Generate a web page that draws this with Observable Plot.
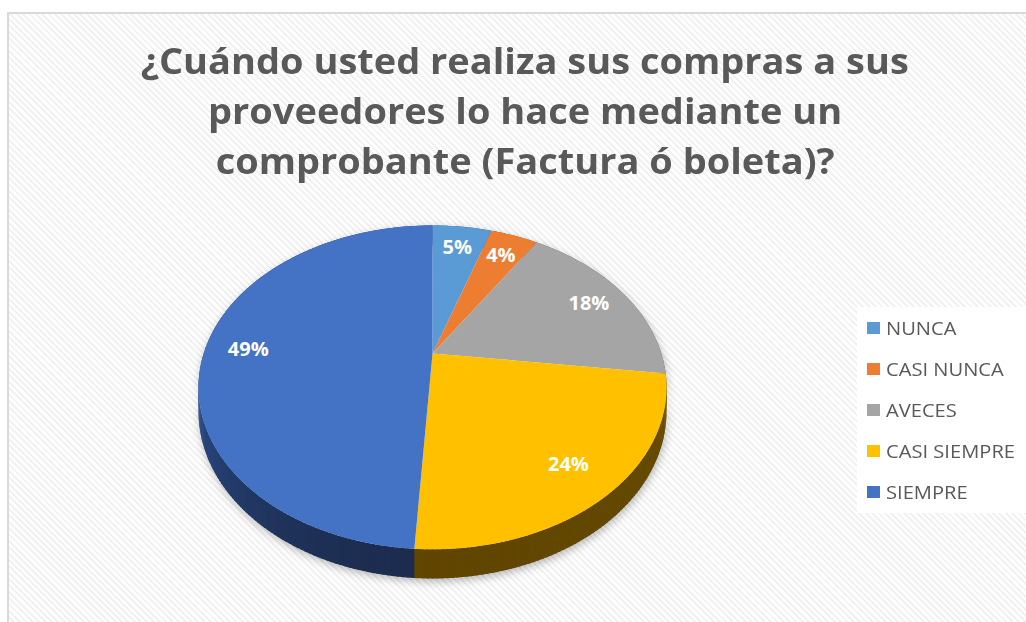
<!DOCTYPE html>
<html><head><meta charset="utf-8">
<script src="https://cdn.jsdelivr.net/npm/d3@7"></script>
<script src="https://cdn.jsdelivr.net/npm/@observablehq/plot@0.6"></script>
<style>
html,body{margin:0;padding:0;background:#fff;}
#wrap{position:relative;width:1026px;height:622px;overflow:hidden;background:#fff;}
#frame{position:absolute;left:7px;top:12px;width:1040px;height:640px;border-left:2px solid #d9d9d9;border-top:2px solid #d9d9d9;
 background:repeating-linear-gradient(45deg,#ffffff 0px,#ffffff 2.5px,#f1f1f1 2.5px,#f1f1f1 4.5px);}
#chart{position:absolute;left:0;top:0;}
#title{position:absolute;left:0;top:36px;width:1050px;text-align:center;font-family:"Open Sans",sans-serif;font-weight:700;color:#595959;font-size:35px;line-height:50px;}
#title .ln{display:block;white-space:nowrap;}
#title .ln span{display:inline-block;transform-origin:50% 50%;}
#legend{position:absolute;left:857px;top:307px;width:175px;height:206px;background:#fff;font-family:"Open Sans",sans-serif;font-size:18px;color:#595959;}
#legend .row{position:absolute;left:0;height:24px;line-height:24px;white-space:nowrap;}
#legend .sw{position:absolute;left:10px;top:6px;width:13px;height:12px;}
#legend .lt{position:absolute;left:29px;top:0;display:inline-block;transform-origin:0 50%;}
</style></head>
<body>
<div id="wrap">
  <div id="frame"></div>
  <div id="chart"></div>
  <div id="title"></div>
  <div id="legend"></div>
</div>
<script>
// ---- data ----
const titleLines = ["¿Cuándo usted realiza sus compras a sus", "proveedores lo hace mediante un", "comprobante (Factura ó boleta)?"];
const categories = ["NUNCA", "CASI NUNCA", "AVECES", "CASI SIEMPRE", "SIEMPRE"];
const values = [5, 4, 18, 24, 49];
const labels = ["5%", "4%", "18%", "24%", "49%"];
// ---- style ----
const topColors = ["#5B9BD5", "#ED7D31", "#A5A5A5", "#FFC000", "#4472C4"];
const sideLight = ["#3b6e9c", "#a9561f", "#747474", "#6a4e00", "#30569a"];
const sideDark  = ["#2b5078", "#7d3f16", "#555555", "#604600", "#1c2c4f"];

// projection parameters (perspective pie)
const CX = 432, CY = 353, FX = 228.8, FY = 154.8, K = 0.2095, D = 23;
function proj(a, r, drop) {
  const u = r * Math.sin(a), v = r * Math.cos(a), w = 1 + K * v;
  return [CX + FX * u / w, CY - FY * v / w + (drop ? D / w : 0)];
}

const total = d3.sum(values);
let acc = 0;
const slices = categories.map((c, i) => {
  const a0 = acc / total * 2 * Math.PI; acc += values[i];
  const a1 = acc / total * 2 * Math.PI;
  return {c, i, a0, a1};
});

const step = Math.PI / 180, eps = 0.012;
const topPts = [], sidePts = [], labelPts = [];
slices.forEach(s => {
  const n = Math.max(2, Math.ceil((s.a1 - s.a0) / step));
  const [x0, y0] = proj(0, 0, false);
  topPts.push({id: s.c, x: x0, y: y0, c: topColors[s.i]});
  for (let j = 0; j <= n; j++) {
    const a = s.a0 + (s.a1 - s.a0) * j / n;
    const [x, y] = proj(a, 1, false);
    topPts.push({id: s.c, x, y, c: topColors[s.i]});
  }
  for (let j = 0; j < n; j++) {
    const a = s.a0 + (s.a1 - s.a0) * j / n;
    const b = Math.min(s.a1 + (s.i === slices.length - 1 ? 0 : eps), s.a0 + (s.a1 - s.a0) * (j + 1) / n + eps);
    const m = (a + b) / 2, t = Math.max(0, Math.min(1, -Math.cos(m)));
    const col = d3.interpolateRgb(sideLight[s.i], sideDark[s.i])(t);
    const id = s.c + "-" + j;
    [proj(a, 1, false), proj(b, 1, false), proj(b, 1, true), proj(a, 1, true)]
      .forEach(([x, y]) => sidePts.push({id, x, y, c: col}));
  }
  const mid = (s.a0 + s.a1) / 2;
  const [lx, ly] = proj(mid, 0.81, false);
  labelPts.push({x: lx, y: ly, text: labels[s.i]});
});

const plot = Plot.plot({
  width: 1026, height: 622,
  margin: 0,
  style: {background: "transparent"},
  x: {domain: [0, 1026], range: [0, 1026], axis: null},
  y: {domain: [0, 622], range: [0, 622], axis: null},
  color: {type: "identity"},
  marks: [
    Plot.line(sidePts, {x: "x", y: "y", z: "id", fill: "c"}),
    Plot.line(topPts, {x: "x", y: "y", z: "id", fill: "c"}),
    Plot.text(labelPts, {x: "x", y: "y", text: "text", fill: "white", fontSize: 20, fontWeight: "bold", fontFamily: "Open Sans"})
  ]
});
document.getElementById("chart").appendChild(plot);
const lineGroups = plot.querySelectorAll('g[aria-label="line"]');
if (lineGroups[0]) lineGroups[0].style.filter = "drop-shadow(1px 3px 4px rgba(0,0,0,0.28))";

// title
const title = document.getElementById("title");
titleLines.forEach(t => {
  const d = document.createElement("div"); d.className = "ln";
  const sp = document.createElement("span"); sp.textContent = t;
  d.appendChild(sp); title.appendChild(d);
});
const spans = title.querySelectorAll("span");
const sx = 768 / spans[0].getBoundingClientRect().width;
spans.forEach(sp => sp.style.transform = `scaleX(${sx})`);

// legend
const legend = document.getElementById("legend");
categories.forEach((c, i) => {
  const r = document.createElement("div"); r.className = "row";
  r.style.top = (9 + 41 * i) + "px";
  const sw = document.createElement("span"); sw.className = "sw"; sw.style.background = topColors[i];
  const lt = document.createElement("span"); lt.className = "lt"; lt.textContent = c;
  r.appendChild(sw); r.appendChild(lt); legend.appendChild(r);
});
const lts = legend.querySelectorAll(".lt");
const lsx = 129 / lts[3].getBoundingClientRect().width;
lts.forEach(l => l.style.transform = `scaleX(${lsx})`);
</script>
</body></html>
